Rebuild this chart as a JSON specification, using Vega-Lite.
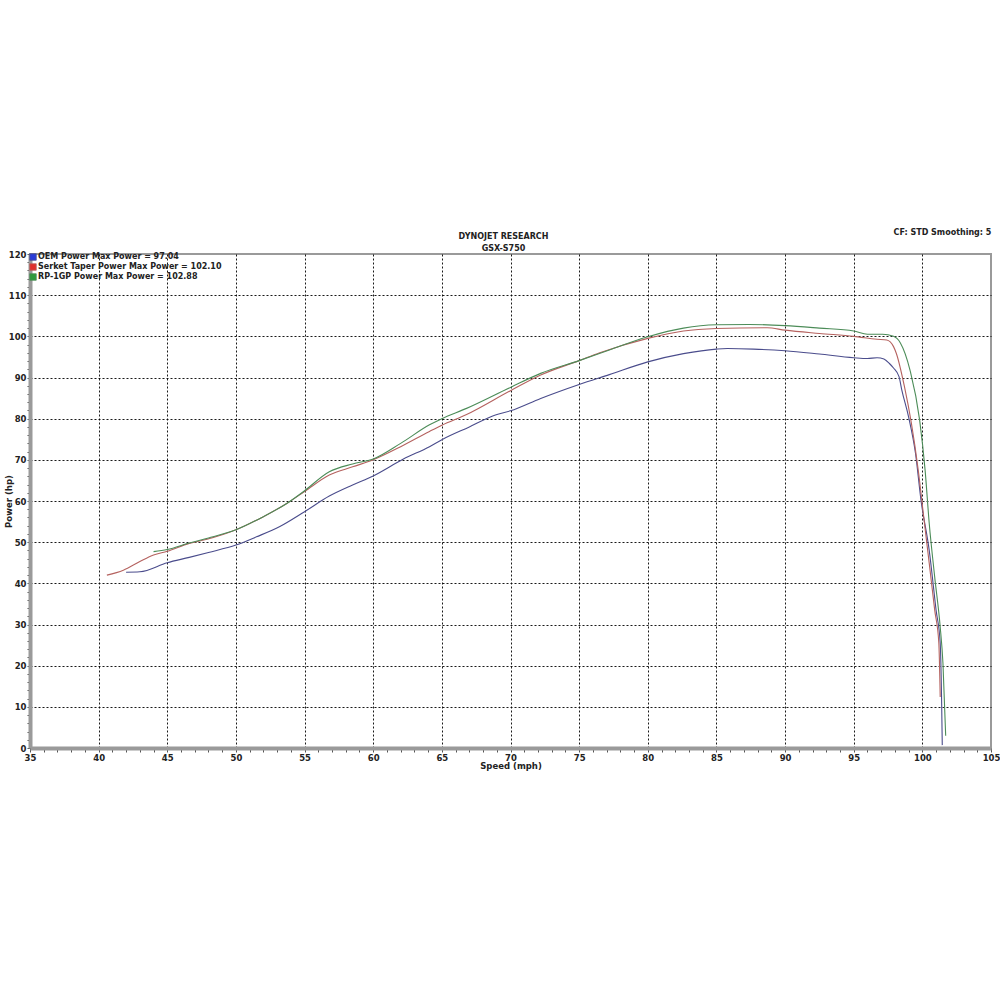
{
  "$schema": "https://vega.github.io/schema/vega-lite/v6.json",
  "width": 961,
  "height": 494,
  "autosize": {"type": "none"},
  "padding": {"left": 30, "top": 254, "right": 9, "bottom": 252},
  "background": "white",
  "config": {
    "font": "DejaVu Sans",
    "view": {"stroke": "#9a9a9a", "strokeWidth": 2},
    "axis": {"labelFont": "DejaVu Sans", "labelFontWeight": "bold", "labelFontSize": 8.5, "labelColor": "#222", "titleFont": "DejaVu Sans", "titleFontWeight": "bold", "titleFontSize": 8.5, "titleColor": "#222"}
  },
  "title": {
    "text": ["DYNOJET RESEARCH", "GSX-S750"],
    "fontSize": 8,
    "fontWeight": "bold",
    "font": "DejaVu Sans",
    "color": "#222",
    "anchor": "middle",
    "lineHeight": 12,
    "offset": 5,
    "dx": -7,
    "dy": 29
  },
  "data": {
    "values": [
      {"series": "OEM Power", "mph": 42.0, "hp": 42.7},
      {"series": "OEM Power", "mph": 43.0, "hp": 42.8},
      {"series": "OEM Power", "mph": 45.0, "hp": 45.0},
      {"series": "OEM Power", "mph": 46.6, "hp": 46.3},
      {"series": "OEM Power", "mph": 48.0, "hp": 47.5},
      {"series": "OEM Power", "mph": 50.0, "hp": 49.3},
      {"series": "OEM Power", "mph": 51.5, "hp": 51.3},
      {"series": "OEM Power", "mph": 53.2, "hp": 53.8},
      {"series": "OEM Power", "mph": 55.0, "hp": 57.4},
      {"series": "OEM Power", "mph": 56.8, "hp": 61.2},
      {"series": "OEM Power", "mph": 58.5, "hp": 63.9},
      {"series": "OEM Power", "mph": 60.0, "hp": 66.1},
      {"series": "OEM Power", "mph": 62.2, "hp": 70.2},
      {"series": "OEM Power", "mph": 64.1, "hp": 73.2},
      {"series": "OEM Power", "mph": 65.0, "hp": 74.9},
      {"series": "OEM Power", "mph": 67.0, "hp": 78.0},
      {"series": "OEM Power", "mph": 68.9, "hp": 80.9},
      {"series": "OEM Power", "mph": 70.0, "hp": 81.9},
      {"series": "OEM Power", "mph": 72.2, "hp": 84.9},
      {"series": "OEM Power", "mph": 75.0, "hp": 88.3},
      {"series": "OEM Power", "mph": 77.2, "hp": 90.7},
      {"series": "OEM Power", "mph": 80.0, "hp": 93.8},
      {"series": "OEM Power", "mph": 82.6, "hp": 95.8},
      {"series": "OEM Power", "mph": 85.0, "hp": 96.9},
      {"series": "OEM Power", "mph": 85.8, "hp": 97.04},
      {"series": "OEM Power", "mph": 87.7, "hp": 96.9},
      {"series": "OEM Power", "mph": 90.0, "hp": 96.5},
      {"series": "OEM Power", "mph": 92.5, "hp": 95.7},
      {"series": "OEM Power", "mph": 95.0, "hp": 94.8},
      {"series": "OEM Power", "mph": 96.0, "hp": 94.6},
      {"series": "OEM Power", "mph": 96.7, "hp": 94.8},
      {"series": "OEM Power", "mph": 97.2, "hp": 94.5},
      {"series": "OEM Power", "mph": 97.6, "hp": 93.4},
      {"series": "OEM Power", "mph": 97.9, "hp": 92.3},
      {"series": "OEM Power", "mph": 98.3, "hp": 90.2},
      {"series": "OEM Power", "mph": 98.5, "hp": 87.0},
      {"series": "OEM Power", "mph": 99.0, "hp": 80.4},
      {"series": "OEM Power", "mph": 99.5, "hp": 71.6},
      {"series": "OEM Power", "mph": 99.9, "hp": 60.2},
      {"series": "OEM Power", "mph": 100.5, "hp": 48.0},
      {"series": "OEM Power", "mph": 101.0, "hp": 33.5},
      {"series": "OEM Power", "mph": 101.3, "hp": 25.5},
      {"series": "OEM Power", "mph": 101.4, "hp": 12.0},
      {"series": "OEM Power", "mph": 101.45, "hp": 0.7},

      {"series": "Serket Taper Power", "mph": 40.6, "hp": 42.0},
      {"series": "Serket Taper Power", "mph": 41.8, "hp": 43.2},
      {"series": "Serket Taper Power", "mph": 43.0, "hp": 45.3},
      {"series": "Serket Taper Power", "mph": 44.0, "hp": 46.9},
      {"series": "Serket Taper Power", "mph": 45.0, "hp": 47.8},
      {"series": "Serket Taper Power", "mph": 46.6, "hp": 49.7},
      {"series": "Serket Taper Power", "mph": 47.9, "hp": 50.7},
      {"series": "Serket Taper Power", "mph": 50.0, "hp": 53.0},
      {"series": "Serket Taper Power", "mph": 52.0, "hp": 56.2},
      {"series": "Serket Taper Power", "mph": 53.7, "hp": 59.4},
      {"series": "Serket Taper Power", "mph": 55.0, "hp": 62.3},
      {"series": "Serket Taper Power", "mph": 56.8, "hp": 66.3},
      {"series": "Serket Taper Power", "mph": 58.5, "hp": 68.3},
      {"series": "Serket Taper Power", "mph": 60.0, "hp": 70.0},
      {"series": "Serket Taper Power", "mph": 62.0, "hp": 73.2},
      {"series": "Serket Taper Power", "mph": 64.1, "hp": 76.9},
      {"series": "Serket Taper Power", "mph": 65.0, "hp": 78.4},
      {"series": "Serket Taper Power", "mph": 66.8, "hp": 81.0},
      {"series": "Serket Taper Power", "mph": 70.0, "hp": 86.8},
      {"series": "Serket Taper Power", "mph": 72.2, "hp": 90.6},
      {"series": "Serket Taper Power", "mph": 75.0, "hp": 94.1},
      {"series": "Serket Taper Power", "mph": 76.5, "hp": 96.0},
      {"series": "Serket Taper Power", "mph": 80.0, "hp": 99.5},
      {"series": "Serket Taper Power", "mph": 82.6, "hp": 101.3},
      {"series": "Serket Taper Power", "mph": 85.0, "hp": 101.9},
      {"series": "Serket Taper Power", "mph": 88.7, "hp": 102.1},
      {"series": "Serket Taper Power", "mph": 90.0, "hp": 101.5},
      {"series": "Serket Taper Power", "mph": 92.5, "hp": 100.7},
      {"series": "Serket Taper Power", "mph": 95.0, "hp": 100.0},
      {"series": "Serket Taper Power", "mph": 96.7, "hp": 99.3},
      {"series": "Serket Taper Power", "mph": 97.4, "hp": 99.1},
      {"series": "Serket Taper Power", "mph": 97.9, "hp": 97.5},
      {"series": "Serket Taper Power", "mph": 98.1, "hp": 95.9},
      {"series": "Serket Taper Power", "mph": 98.7, "hp": 87.7},
      {"series": "Serket Taper Power", "mph": 99.2, "hp": 78.9},
      {"series": "Serket Taper Power", "mph": 99.7, "hp": 67.5},
      {"series": "Serket Taper Power", "mph": 100.1, "hp": 56.1},
      {"series": "Serket Taper Power", "mph": 100.5, "hp": 44.9},
      {"series": "Serket Taper Power", "mph": 100.9, "hp": 33.5},
      {"series": "Serket Taper Power", "mph": 101.2, "hp": 25.5},
      {"series": "Serket Taper Power", "mph": 101.3, "hp": 12.4},

      {"series": "RP-1GP Power", "mph": 44.0, "hp": 47.7},
      {"series": "RP-1GP Power", "mph": 45.0, "hp": 48.2},
      {"series": "RP-1GP Power", "mph": 46.6, "hp": 49.8},
      {"series": "RP-1GP Power", "mph": 48.0, "hp": 51.0},
      {"series": "RP-1GP Power", "mph": 50.0, "hp": 53.0},
      {"series": "RP-1GP Power", "mph": 52.0, "hp": 56.2},
      {"series": "RP-1GP Power", "mph": 53.7, "hp": 59.4},
      {"series": "RP-1GP Power", "mph": 55.0, "hp": 62.5},
      {"series": "RP-1GP Power", "mph": 56.8, "hp": 67.1},
      {"series": "RP-1GP Power", "mph": 58.5, "hp": 69.0},
      {"series": "RP-1GP Power", "mph": 60.0, "hp": 70.2},
      {"series": "RP-1GP Power", "mph": 62.0, "hp": 74.0},
      {"series": "RP-1GP Power", "mph": 64.1, "hp": 78.5},
      {"series": "RP-1GP Power", "mph": 65.0, "hp": 80.0},
      {"series": "RP-1GP Power", "mph": 66.8, "hp": 82.5},
      {"series": "RP-1GP Power", "mph": 70.0, "hp": 87.6},
      {"series": "RP-1GP Power", "mph": 72.2, "hp": 91.0},
      {"series": "RP-1GP Power", "mph": 75.0, "hp": 94.1},
      {"series": "RP-1GP Power", "mph": 77.2, "hp": 96.7},
      {"series": "RP-1GP Power", "mph": 80.0, "hp": 99.9},
      {"series": "RP-1GP Power", "mph": 82.6, "hp": 102.0},
      {"series": "RP-1GP Power", "mph": 85.0, "hp": 102.8},
      {"series": "RP-1GP Power", "mph": 87.4, "hp": 102.88},
      {"series": "RP-1GP Power", "mph": 90.0, "hp": 102.6},
      {"series": "RP-1GP Power", "mph": 92.5, "hp": 102.0},
      {"series": "RP-1GP Power", "mph": 95.0, "hp": 101.3},
      {"series": "RP-1GP Power", "mph": 96.0, "hp": 100.5},
      {"series": "RP-1GP Power", "mph": 97.1, "hp": 100.5},
      {"series": "RP-1GP Power", "mph": 97.9, "hp": 100.0},
      {"series": "RP-1GP Power", "mph": 98.4, "hp": 98.4},
      {"series": "RP-1GP Power", "mph": 99.1, "hp": 91.8},
      {"series": "RP-1GP Power", "mph": 99.8, "hp": 79.7},
      {"series": "RP-1GP Power", "mph": 100.2, "hp": 67.5},
      {"series": "RP-1GP Power", "mph": 100.5, "hp": 54.6},
      {"series": "RP-1GP Power", "mph": 100.9, "hp": 41.5},
      {"series": "RP-1GP Power", "mph": 101.3, "hp": 29.4},
      {"series": "RP-1GP Power", "mph": 101.5, "hp": 20.6},
      {"series": "RP-1GP Power", "mph": 101.7, "hp": 3.0}
    ]
  },
  "layer": [
    {
      "mark": {"type": "line", "strokeWidth": 1.1, "interpolate": "monotone"},
      "encoding": {
        "x": {
          "field": "mph", "type": "quantitative",
          "scale": {"domain": [35, 105], "nice": false, "zero": false},
          "axis": {
            "title": "Speed (mph)",
            "values": [35,36,37,38,39,40,41,42,43,44,45,46,47,48,49,50,51,52,53,54,55,56,57,58,59,60,61,62,63,64,65,66,67,68,69,70,71,72,73,74,75,76,77,78,79,80,81,82,83,84,85,86,87,88,89,90,91,92,93,94,95,96,97,98,99,100,101,102,103,104,105],
            "tickCount": 500,
            "format": "d",
            "labelExpr": "datum.value % 5 === 0 ? datum.label : ''",
            "labelOverlap": false,
            "labelFlush": false,
            "labelPadding": 1,
            "tickSize": 4,
            "tickColor": "#555",
            "domainColor": "#9a9a9a",
            "domainWidth": 4,
            "grid": true,
            "gridColor": "#000",
            "gridDash": [2, 2],
            "gridWidth": 1,
            "gridOpacity": {"condition": {"test": "datum.value % 5 === 0 && datum.value > 35 && datum.value < 105", "value": 0.9}, "value": 0},
            "titlePadding": 0
          }
        },
        "y": {
          "field": "hp", "type": "quantitative",
          "scale": {"domain": [0, 120], "nice": false},
          "axis": {
            "title": "Power (hp)",
            "values": [0,2,4,6,8,10,12,14,16,18,20,22,24,26,28,30,32,34,36,38,40,42,44,46,48,50,52,54,56,58,60,62,64,66,68,70,72,74,76,78,80,82,84,86,88,90,92,94,96,98,100,102,104,106,108,110,112,114,116,118,120],
            "tickCount": 500,
            "format": "d",
            "labelExpr": "datum.value % 10 === 0 ? datum.label : ''",
            "labelOverlap": false,
            "labelFlush": false,
            "labelPadding": 1,
            "tickSize": 3,
            "tickColor": "#555",
            "domainColor": "#9a9a9a",
            "domainWidth": 4,
            "grid": true,
            "gridColor": "#000",
            "gridDash": [2, 2],
            "gridWidth": 1,
            "gridOpacity": {"condition": {"test": "datum.value % 10 === 0 && datum.value > 0 && datum.value < 120", "value": 0.9}, "value": 0},
            "titleX": -22,
            "titleY": 247,
            "titleAngle": -90,
            "titleAlign": "center",
            "titleBaseline": "middle"
          }
        },
        "color": {
          "field": "series", "type": "nominal",
          "scale": {"domain": ["OEM Power", "Serket Taper Power", "RP-1GP Power"], "range": ["#4a4c8c", "#b5625f", "#4c8c58"]},
          "legend": {
            "orient": "none",
            "legendX": -1,
            "legendY": -1,
            "title": null,
            "symbolType": "square",
            "symbolSize": 42,
            "symbolStrokeWidth": 1,
            "labelFont": "DejaVu Sans",
            "labelFontWeight": "bold",
            "labelFontSize": 8,
            "labelColor": "#222",
            "labelOffset": 1,
            "labelLimit": 400,
            "rowPadding": 0,
            "padding": 0,
            "labelExpr": "datum.label + ' Max Power = ' + (datum.label === 'OEM Power' ? '97.04' : datum.label === 'Serket Taper Power' ? '102.10' : '102.88')",
            "encode": {
              "symbols": {
                "update": {
                  "fill": {"signal": "datum.value === 'OEM Power' ? '#2a3cd8' : datum.value === 'Serket Taper Power' ? '#e0302c' : '#2f9a3c'"},
                  "fillOpacity": {"value": 1},
                  "stroke": {"value": "#333"},
                  "strokeWidth": {"value": 0.8}
                }
              }
            }
          }
        }
      }
    },
    {
      "data": {"values": [{"note": "CF: STD  Smoothing: 5", "mph": 97.9, "hp": 125}]},
      "mark": {"type": "text", "align": "left", "baseline": "middle", "font": "DejaVu Sans", "fontWeight": "bold", "fontSize": 8, "color": "#222"},
      "encoding": {
        "x": {"field": "mph", "type": "quantitative"},
        "y": {"field": "hp", "type": "quantitative"},
        "text": {"field": "note"}
      }
    }
  ]
}
